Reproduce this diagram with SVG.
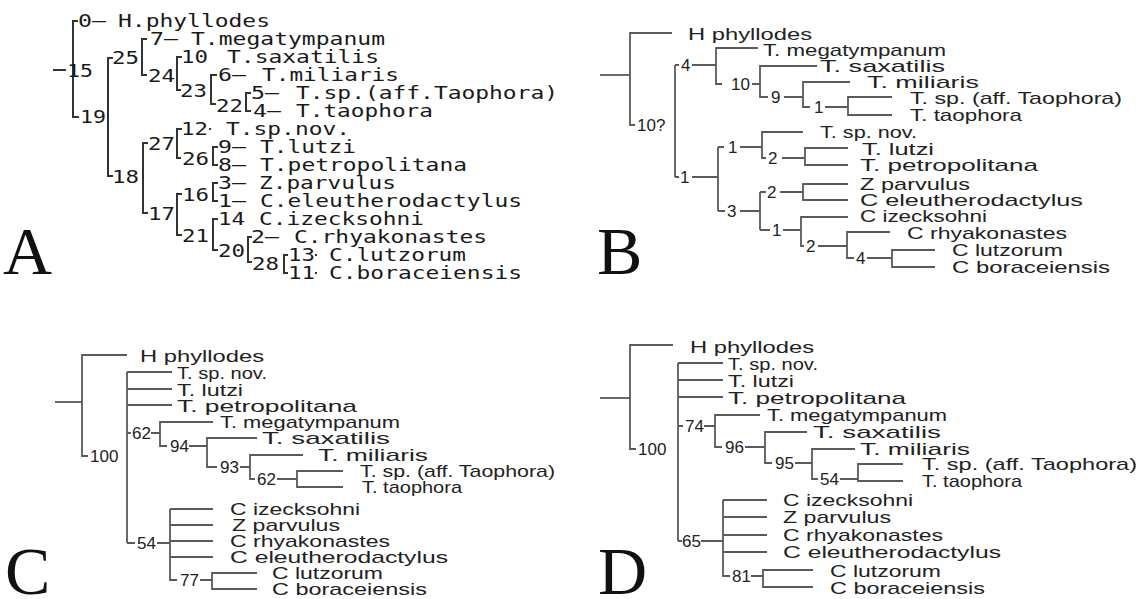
<svg xmlns="http://www.w3.org/2000/svg" width="1148" height="599" viewBox="0 0 1148 599">
<style>
.ln{stroke:#5a5a5a;stroke-width:1.8;fill:none}
.la{stroke:#333;stroke-width:2;fill:none}
.m{font-family:"DejaVu Sans Mono","Liberation Mono",monospace;font-size:18px;fill:#1a1a1a}
.s{font-family:"Liberation Sans",Arial,sans-serif;font-size:17px;fill:#222}
.big{font-family:"Liberation Serif","Times New Roman",serif;font-size:68px;fill:#111}
</style>
<rect width="1148" height="599" fill="#fff"/>
<!-- panel letters -->
<text class="big" x="3" y="274">A</text>
<text class="big" x="597" y="274">B</text>
<text class="big" x="5" y="594">C</text>
<text class="big" x="598" y="594">D</text>

<!-- ===== Panel A ===== -->
<g id="A-connectors">
<path class="la" d="M53,70H66"/>
<path class="la" d="M78,21H73V117H79"/>
<path class="la" d="M113,58H108V176H113"/>
<path class="la" d="M147,39H142V75H147"/>
<path class="la" d="M182,57H177V90H181"/>
<path class="la" d="M217,75H211V104H216"/>
<path class="la" d="M251,93H246V111H251"/>
<path class="la" d="M148,143H143V213H148"/>
<path class="la" d="M182,129H177V158H181"/>
<path class="la" d="M218,147H213V165H218"/>
<path class="la" d="M182,194H177V235H182"/>
<path class="la" d="M218,183H213V201H218"/>
<path class="la" d="M218,219H213V250H218"/>
<path class="la" d="M252,237H248V262H252"/>
<path class="la" d="M288,255H284V273H288"/>
<path class="la" d="M209,129h2M315,255h2M315,273h2"/>
</g>
<g id="A-n15"><text class="m" x="67" y="77" textLength="26" lengthAdjust="spacingAndGlyphs">15</text></g>
<g id="A-n19"><text class="m" x="80" y="123" textLength="26" lengthAdjust="spacingAndGlyphs">19</text></g>
<g id="A-n25"><text class="m" x="112" y="64" textLength="27" lengthAdjust="spacingAndGlyphs">25</text></g>
<g id="A-n24"><text class="m" x="148" y="82" textLength="27" lengthAdjust="spacingAndGlyphs">24</text></g>
<g id="A-n23"><text class="m" x="180" y="97" textLength="27" lengthAdjust="spacingAndGlyphs">23</text></g>
<g id="A-n22"><text class="m" x="216" y="112" textLength="27" lengthAdjust="spacingAndGlyphs">22</text></g>
<g id="A-n27"><text class="m" x="148" y="150" textLength="27" lengthAdjust="spacingAndGlyphs">27</text></g>
<g id="A-n26"><text class="m" x="182" y="165" textLength="27" lengthAdjust="spacingAndGlyphs">26</text></g>
<g id="A-n18"><text class="m" x="112" y="183" textLength="27" lengthAdjust="spacingAndGlyphs">18</text></g>
<g id="A-n16"><text class="m" x="182" y="201" textLength="27" lengthAdjust="spacingAndGlyphs">16</text></g>
<g id="A-n17"><text class="m" x="148" y="220" textLength="27" lengthAdjust="spacingAndGlyphs">17</text></g>
<g id="A-n21"><text class="m" x="182" y="242" textLength="27" lengthAdjust="spacingAndGlyphs">21</text></g>
<g id="A-n20"><text class="m" x="218" y="257" textLength="27" lengthAdjust="spacingAndGlyphs">20</text></g>
<g id="A-n28"><text class="m" x="252" y="270" textLength="27" lengthAdjust="spacingAndGlyphs">28</text></g>
<g id="A-t0"><text class="m" x="78" y="27" textLength="28" lengthAdjust="spacingAndGlyphs">0—</text><text class="m" x="118" y="27" textLength="152" lengthAdjust="spacingAndGlyphs">H.phyllodes</text></g>
<g id="A-t7"><text class="m" x="150" y="45" textLength="28" lengthAdjust="spacingAndGlyphs">7—</text><text class="m" x="191" y="45" textLength="194" lengthAdjust="spacingAndGlyphs">T.megatympanum</text></g>
<g id="A-t10"><text class="m" x="181" y="63" textLength="27" lengthAdjust="spacingAndGlyphs">10</text><text class="m" x="227" y="63" textLength="152" lengthAdjust="spacingAndGlyphs">T.saxatilis</text></g>
<g id="A-t6"><text class="m" x="218" y="81" textLength="28" lengthAdjust="spacingAndGlyphs">6—</text><text class="m" x="262" y="81" textLength="137" lengthAdjust="spacingAndGlyphs">T.miliaris</text></g>
<g id="A-t5"><text class="m" x="251" y="99" textLength="28" lengthAdjust="spacingAndGlyphs">5—</text><text class="m" x="296" y="99" textLength="262" lengthAdjust="spacingAndGlyphs">T.sp.(aff.Taophora)</text></g>
<g id="A-t4"><text class="m" x="253" y="117" textLength="28" lengthAdjust="spacingAndGlyphs">4—</text><text class="m" x="296" y="117" textLength="137" lengthAdjust="spacingAndGlyphs">T.taophora</text></g>
<g id="A-t12"><text class="m" x="181" y="135" textLength="27" lengthAdjust="spacingAndGlyphs">12</text><text class="m" x="226" y="135" textLength="124" lengthAdjust="spacingAndGlyphs">T.sp.nov.</text></g>
<g id="A-t9"><text class="m" x="218" y="153" textLength="28" lengthAdjust="spacingAndGlyphs">9—</text><text class="m" x="260" y="153" textLength="96" lengthAdjust="spacingAndGlyphs">T.lutzi</text></g>
<g id="A-t8"><text class="m" x="218" y="171" textLength="28" lengthAdjust="spacingAndGlyphs">8—</text><text class="m" x="260" y="171" textLength="207" lengthAdjust="spacingAndGlyphs">T.petropolitana</text></g>
<g id="A-t3"><text class="m" x="218" y="189" textLength="28" lengthAdjust="spacingAndGlyphs">3—</text><text class="m" x="259" y="189" textLength="137" lengthAdjust="spacingAndGlyphs">Z.parvulus</text></g>
<g id="A-t1"><text class="m" x="218" y="207" textLength="28" lengthAdjust="spacingAndGlyphs">1—</text><text class="m" x="260" y="207" textLength="262" lengthAdjust="spacingAndGlyphs">C.eleutherodactylus</text></g>
<g id="A-t14"><text class="m" x="218" y="225" textLength="27" lengthAdjust="spacingAndGlyphs">14</text><text class="m" x="259" y="225" textLength="165" lengthAdjust="spacingAndGlyphs">C.izecksohni</text></g>
<g id="A-t2"><text class="m" x="251" y="243" textLength="28" lengthAdjust="spacingAndGlyphs">2—</text><text class="m" x="294" y="243" textLength="193" lengthAdjust="spacingAndGlyphs">C.rhyakonastes</text></g>
<g id="A-t13"><text class="m" x="288" y="261" textLength="27" lengthAdjust="spacingAndGlyphs">13</text><text class="m" x="329" y="261" textLength="137" lengthAdjust="spacingAndGlyphs">C.lutzorum</text></g>
<g id="A-t11"><text class="m" x="288" y="279" textLength="27" lengthAdjust="spacingAndGlyphs">11</text><text class="m" x="329" y="279" textLength="193" lengthAdjust="spacingAndGlyphs">C.boraceiensis</text></g>

<!-- ===== Panel B ===== -->
<g id="B-connectors">
<path class="ln" d="M600,75H630"/>
<path class="ln" d="M672,33H630V125H635"/>
<path class="ln" d="M675,65V177"/>
<path class="ln" d="M675,65H679M692,65H716"/>
<path class="ln" d="M758,48H716V84H722M752,84H760"/>
<path class="ln" d="M817,66H760V97H768M784,97H803"/>
<path class="ln" d="M850,82H803V107H810M825,107H848"/>
<path class="ln" d="M892,97H848V115H892"/>
<path class="ln" d="M675,177H679M692,177H718"/>
<path class="ln" d="M718,147V211"/>
<path class="ln" d="M718,147H724M740,147H762"/>
<path class="ln" d="M803,132H762V158H766M782,158H805"/>
<path class="ln" d="M848,148H805V165H848"/>
<path class="ln" d="M718,211H725M740,211H760"/>
<path class="ln" d="M760,192V230"/>
<path class="ln" d="M760,192H766M780,192H803"/>
<path class="ln" d="M848,184H803V200H848"/>
<path class="ln" d="M760,230H770M783,230H801"/>
<path class="ln" d="M848,217H801V246H804M818,246H847"/>
<path class="ln" d="M890,232H847V258H854M867,258H892"/>
<path class="ln" d="M935,250H892V267H935"/>
</g>
<g id="B-n10q"><text class="s" x="637" y="131">10?</text></g>
<g id="B-n4"><text class="s" x="681" y="71">4</text></g>
<g id="B-n10"><text class="s" x="731" y="90">10</text></g>
<g id="B-n9"><text class="s" x="771" y="103">9</text></g>
<g id="B-n1a"><text class="s" x="814" y="113">1</text></g>
<g id="B-n1b"><text class="s" x="728" y="153">1</text></g>
<g id="B-n2a"><text class="s" x="768" y="164">2</text></g>
<g id="B-n1c"><text class="s" x="680" y="183">1</text></g>
<g id="B-n3"><text class="s" x="727" y="217">3</text></g>
<g id="B-n2b"><text class="s" x="767" y="198">2</text></g>
<g id="B-n1d"><text class="s" x="772" y="236">1</text></g>
<g id="B-n2c"><text class="s" x="806" y="252">2</text></g>
<g id="B-n4c"><text class="s" x="856" y="264">4</text></g>
<g id="B-t-hphy"><text class="s" x="688" y="40" textLength="124" lengthAdjust="spacingAndGlyphs">H phyllodes</text></g>
<g id="B-t-tmeg"><text class="s" x="763" y="56" textLength="183" lengthAdjust="spacingAndGlyphs">T. megatympanum</text></g>
<g id="B-t-tsax"><text class="s" x="820" y="72" textLength="125" lengthAdjust="spacingAndGlyphs">T. saxatilis</text></g>
<g id="B-t-tmil"><text class="s" x="867" y="88" textLength="112" lengthAdjust="spacingAndGlyphs">T. miliaris</text></g>
<g id="B-t-tsp"><text class="s" x="910" y="104" textLength="212" lengthAdjust="spacingAndGlyphs">T. sp. (aff. Taophora)</text></g>
<g id="B-t-ttao"><text class="s" x="910" y="121" textLength="112" lengthAdjust="spacingAndGlyphs">T. taophora</text></g>
<g id="B-t-tspn"><text class="s" x="820" y="138" textLength="97" lengthAdjust="spacingAndGlyphs">T. sp. nov.</text></g>
<g id="B-t-tlut"><text class="s" x="862" y="155" textLength="72" lengthAdjust="spacingAndGlyphs">T. lutzi</text></g>
<g id="B-t-tpet"><text class="s" x="860" y="171" textLength="178" lengthAdjust="spacingAndGlyphs">T. petropolitana</text></g>
<g id="B-t-zpar"><text class="s" x="860" y="190" textLength="110" lengthAdjust="spacingAndGlyphs">Z parvulus</text></g>
<g id="B-t-cele"><text class="s" x="860" y="206" textLength="223" lengthAdjust="spacingAndGlyphs">C eleutherodactylus</text></g>
<g id="B-t-cize"><text class="s" x="860" y="222" textLength="127" lengthAdjust="spacingAndGlyphs">C izecksohni</text></g>
<g id="B-t-crhy"><text class="s" x="907" y="239" textLength="160" lengthAdjust="spacingAndGlyphs">C rhyakonastes</text></g>
<g id="B-t-clut"><text class="s" x="952" y="256" textLength="111" lengthAdjust="spacingAndGlyphs">C lutzorum</text></g>
<g id="B-t-cbor"><text class="s" x="952" y="273" textLength="158" lengthAdjust="spacingAndGlyphs">C boraceiensis</text></g>

<!-- ===== Panel C ===== -->
<g id="C-connectors">
<path class="ln" d="M55,402H82"/>
<path class="ln" d="M127,355H82V456H88"/>
<path class="ln" d="M127,372V543"/>
<path class="ln" d="M127,372H172M127,389H172M127,405H172"/>
<path class="ln" d="M127,433H131M151,433H160"/>
<path class="ln" d="M213,422H160V446H167M189,446H207"/>
<path class="ln" d="M257,438H207V467H217M240,467H250"/>
<path class="ln" d="M303,455H250V479H255M277,479H297"/>
<path class="ln" d="M343,471H297V487H343"/>
<path class="ln" d="M127,543H135M157,543H170"/>
<path class="ln" d="M170,509V580H177M170,509H213M170,525H213M170,541H213M170,557H213"/>
<path class="ln" d="M200,580H212M257,573H212V589H257"/>
</g>
<g id="C-n100"><text class="s" x="90" y="462">100</text></g>
<g id="C-n62"><text class="s" x="132" y="439">62</text></g>
<g id="C-n94"><text class="s" x="170" y="452">94</text></g>
<g id="C-n93"><text class="s" x="220" y="473">93</text></g>
<g id="C-n62b"><text class="s" x="257" y="485">62</text></g>
<g id="C-n54"><text class="s" x="137" y="549">54</text></g>
<g id="C-n77"><text class="s" x="180" y="586">77</text></g>
<g id="C-t-hphy"><text class="s" x="140" y="362" textLength="124" lengthAdjust="spacingAndGlyphs">H phyllodes</text></g>
<g id="C-t-tspn"><text class="s" x="177" y="379" textLength="90" lengthAdjust="spacingAndGlyphs">T. sp. nov.</text></g>
<g id="C-t-tlut"><text class="s" x="177" y="396" textLength="66" lengthAdjust="spacingAndGlyphs">T. lutzi</text></g>
<g id="C-t-tpet"><text class="s" x="177" y="412" textLength="180" lengthAdjust="spacingAndGlyphs">T. petropolitana</text></g>
<g id="C-t-tmeg"><text class="s" x="220" y="428" textLength="180" lengthAdjust="spacingAndGlyphs">T. megatympanum</text></g>
<g id="C-t-tsax"><text class="s" x="262" y="444" textLength="128" lengthAdjust="spacingAndGlyphs">T. saxatilis</text></g>
<g id="C-t-tmil"><text class="s" x="318" y="461" textLength="110" lengthAdjust="spacingAndGlyphs">T. miliaris</text></g>
<g id="C-t-tsp"><text class="s" x="360" y="477" textLength="195" lengthAdjust="spacingAndGlyphs">T. sp. (aff. Taophora)</text></g>
<g id="C-t-ttao"><text class="s" x="362" y="493" textLength="100" lengthAdjust="spacingAndGlyphs">T. taophora</text></g>
<g id="C-t-cize"><text class="s" x="230" y="515" textLength="130" lengthAdjust="spacingAndGlyphs">C izecksohni</text></g>
<g id="C-t-zpar"><text class="s" x="232" y="531" textLength="108" lengthAdjust="spacingAndGlyphs">Z parvulus</text></g>
<g id="C-t-crhy"><text class="s" x="230" y="547" textLength="160" lengthAdjust="spacingAndGlyphs">C rhyakonastes</text></g>
<g id="C-t-cele"><text class="s" x="230" y="563" textLength="218" lengthAdjust="spacingAndGlyphs">C eleutherodactylus</text></g>
<g id="C-t-clut"><text class="s" x="272" y="579" textLength="111" lengthAdjust="spacingAndGlyphs">C lutzorum</text></g>
<g id="C-t-cbor"><text class="s" x="272" y="595" textLength="155" lengthAdjust="spacingAndGlyphs">C boraceiensis</text></g>

<!-- ===== Panel D ===== -->
<g id="D-connectors">
<path class="ln" d="M600,398H630"/>
<path class="ln" d="M673,345H630V449H636"/>
<path class="ln" d="M678,363V541"/>
<path class="ln" d="M678,363H723M678,380H723M678,397H723"/>
<path class="ln" d="M678,426H683M704,426H715"/>
<path class="ln" d="M760,415H715V447H722M745,447H765"/>
<path class="ln" d="M807,432H765V463H772M795,463H812"/>
<path class="ln" d="M855,449H812V479H818M840,479H858"/>
<path class="ln" d="M903,464H858V481H903"/>
<path class="ln" d="M678,541H682M701,541H723"/>
<path class="ln" d="M723,500V576H730M723,500H767M723,517H767M723,535H767M723,552H767"/>
<path class="ln" d="M751,576H763M813,570H763V587H813"/>
</g>
<g id="D-n100"><text class="s" x="638" y="455">100</text></g>
<g id="D-n74"><text class="s" x="685" y="432">74</text></g>
<g id="D-n96"><text class="s" x="725" y="453">96</text></g>
<g id="D-n95"><text class="s" x="775" y="469">95</text></g>
<g id="D-n54"><text class="s" x="820" y="485">54</text></g>
<g id="D-n65"><text class="s" x="682" y="547">65</text></g>
<g id="D-n81"><text class="s" x="732" y="582">81</text></g>
<g id="D-t-hphy"><text class="s" x="690" y="353" textLength="124" lengthAdjust="spacingAndGlyphs">H phyllodes</text></g>
<g id="D-t-tspn"><text class="s" x="728" y="370" textLength="90" lengthAdjust="spacingAndGlyphs">T. sp. nov.</text></g>
<g id="D-t-tlut"><text class="s" x="728" y="387" textLength="66" lengthAdjust="spacingAndGlyphs">T. lutzi</text></g>
<g id="D-t-tpet"><text class="s" x="728" y="404" textLength="178" lengthAdjust="spacingAndGlyphs">T. petropolitana</text></g>
<g id="D-t-tmeg"><text class="s" x="767" y="421" textLength="180" lengthAdjust="spacingAndGlyphs">T. megatympanum</text></g>
<g id="D-t-tsax"><text class="s" x="813" y="438" textLength="128" lengthAdjust="spacingAndGlyphs">T. saxatilis</text></g>
<g id="D-t-tmil"><text class="s" x="860" y="455" textLength="110" lengthAdjust="spacingAndGlyphs">T. miliaris</text></g>
<g id="D-t-tsp"><text class="s" x="922" y="470" textLength="215" lengthAdjust="spacingAndGlyphs">T. sp. (aff. Taophora)</text></g>
<g id="D-t-ttao"><text class="s" x="922" y="487" textLength="100" lengthAdjust="spacingAndGlyphs">T. taophora</text></g>
<g id="D-t-cize"><text class="s" x="783" y="506" textLength="130" lengthAdjust="spacingAndGlyphs">C izecksohni</text></g>
<g id="D-t-zpar"><text class="s" x="783" y="523" textLength="108" lengthAdjust="spacingAndGlyphs">Z parvulus</text></g>
<g id="D-t-crhy"><text class="s" x="783" y="541" textLength="160" lengthAdjust="spacingAndGlyphs">C rhyakonastes</text></g>
<g id="D-t-cele"><text class="s" x="783" y="558" textLength="218" lengthAdjust="spacingAndGlyphs">C eleutherodactylus</text></g>
<g id="D-t-clut"><text class="s" x="830" y="577" textLength="111" lengthAdjust="spacingAndGlyphs">C lutzorum</text></g>
<g id="D-t-cbor"><text class="s" x="830" y="594" textLength="155" lengthAdjust="spacingAndGlyphs">C boraceiensis</text></g>
</svg>
